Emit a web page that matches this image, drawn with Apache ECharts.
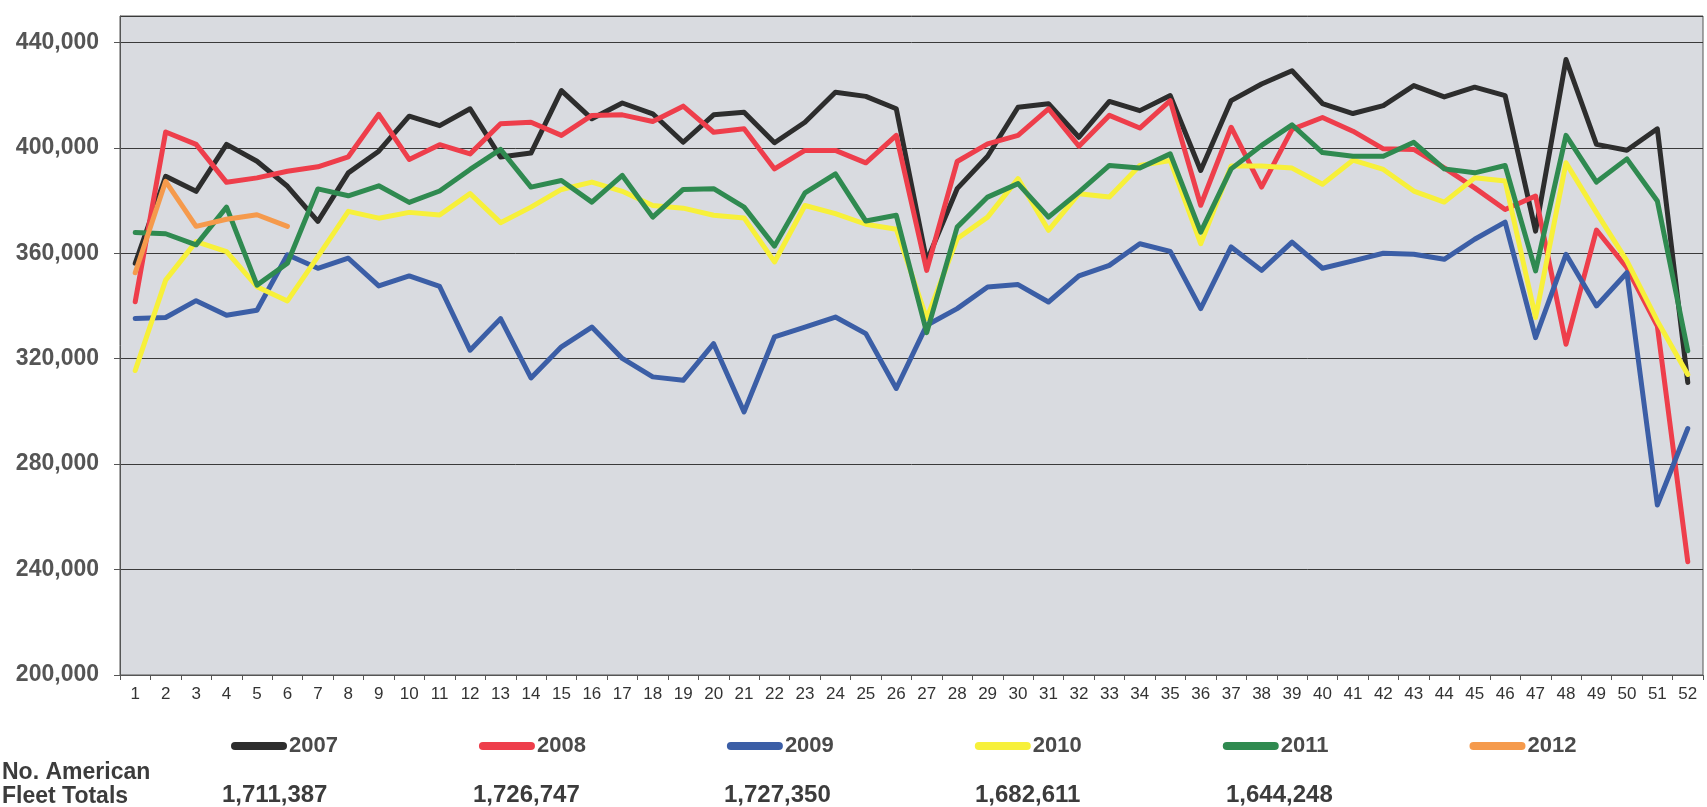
<!DOCTYPE html>
<html>
<head>
<meta charset="utf-8">
<title>No. American Fleet Totals</title>
<script src="https://cdn.jsdelivr.net/npm/echarts@6/dist/echarts.min.js"></script>
<style>
  html, body { margin: 0; padding: 0; background: #fff; }
  #chart { width: 1707px; height: 807px; }
</style>
</head>
<body>
<div id="chart"></div>
<script>
// weeks 1..52
const weeks = []
for (let i = 1; i <= 52; i++) weeks.push(String(i))

const years = ['2007', '2008', '2009', '2010', '2011', '2012']
const lineColors = ['#2d2d2d', '#ee3e4b', '#3b5ea6', '#f7f03a', '#2f8a50', '#f59a4c']

const y2007 = [356200, 389200, 383500, 401300, 394900, 385400, 372100, 390500, 398700, 412000,
  408400, 414800, 396500, 398000, 421700, 411000, 417000, 412900, 402100, 412500,
  413500, 401900, 409700, 421100, 419500, 414800, 357000, 384500, 396800, 415400,
  416700, 404000, 417600, 414100, 419800, 391400, 417900, 424200, 429200, 416800,
  413000, 416000, 423600, 419300, 423000, 419800, 368400, 433500, 401300, 399100,
  407200, 311000]
const y2008 = [341600, 406000, 401300, 386900, 388600, 391100, 392800, 396600, 412700, 395600,
  401200, 397700, 409100, 409700, 404700, 412300, 412500, 410000, 415800, 405900,
  407200, 392000, 399000, 399000, 394300, 404700, 353500, 394800, 401500, 404700,
  414800, 400600, 412300, 407500, 417900, 378200, 407800, 385100, 407000, 411500,
  406300, 399600, 399400, 392400, 384800, 376600, 381700, 325500, 368800, 354500,
  332400, 243000]
const y2009 = [335200, 335600, 342000, 336500, 338400, 359400, 354300, 358100, 347600, 351400,
  347400, 323200, 335200, 312700, 324500, 332000, 320100, 313100, 311800, 325700,
  299800, 328300, 332000, 335800, 329500, 308700, 332700, 339000, 347200, 348100,
  341500, 351400, 355400, 363600, 360700, 339000, 362400, 353500, 364200, 354300,
  357100, 360000, 359600, 357700, 365300, 371800, 328000, 359600, 340000, 352600,
  264500, 293500]
const y2010 = [315500, 349800, 364400, 360600, 347300, 341900, 358700, 375900, 373300, 375500,
  374500, 382600, 371600, 377500, 384200, 387000, 383500, 378100, 377100, 374400,
  373400, 356700, 378100, 375000, 371000, 369100, 335200, 365500, 373700, 388300,
  368700, 382600, 381300, 393300, 395200, 363600, 393100, 393100, 392300, 386200,
  395300, 391800, 383600, 379400, 388600, 387400, 335600, 394300, 375400, 357100,
  334300, 314000]
const y2011 = [367900, 367400, 363200, 377500, 347900, 356200, 384400, 381800, 385600, 379300,
  383600, 391800, 399400, 385100, 387600, 379400, 389500, 373700, 384200, 384500,
  377500, 362700, 382900, 390100, 372200, 374400, 329900, 369900, 381300, 386400,
  373700, 383200, 393300, 392300, 397700, 368000, 392000, 400900, 408700, 398200,
  396800, 396800, 402100, 392000, 390500, 393300, 353300, 404700, 387000, 395800,
  379800, 323000]
const y2012 = [352600, 387300, 370200, 372900, 374600, 370200]

const fleetTotals = ['1,711,387', '1,726,747', '1,727,350', '1,682,611', '1,644,248']

const yearData = [y2007, y2008, y2009, y2010, y2011, y2012]

function fmt(v) {
  return String(v).replace(/\B(?=(\d{3})+(?!\d))/g, ',')
}

const font = '"Liberation Sans", Arial, sans-serif'

let seriesList = years.map((yr, i) => ({
  name: yr,
  type: 'line',
  data: yearData[i],
  showSymbol: false,
  symbol: 'none',
  lineStyle: { width: 5, color: lineColors[i], cap: 'round', join: 'round' },
  itemStyle: { color: lineColors[i] },
  emphasis: { disabled: true },
}))

// totals under the legend, one per year that has a full set of weeks
let totalTexts = fleetTotals.map((t, i) => ({
  type: 'text',
  left: 222 + i * 251,
  top: 783,
  style: { text: t, fill: '#3c3c3c', font: 'bold 24px ' + font },
}))

const option = {
  animation: false,
  backgroundColor: '#ffffff',
  color: lineColors,
  grid: {
    left: 120,
    right: 4,
    top: 16,
    bottom: 132,
    show: true,
    backgroundColor: '#d9dbe0',
    borderColor: '#555',
    borderWidth: 1,
    containLabel: false,
    outerBoundsMode: 'none',
  },
  legend: {
    left: 226,
    top: 730,
    itemWidth: 56,
    itemHeight: 8,
    itemGap: 141,
    icon: 'path://M4,0 L52,0 A4,4 0 0 1 52,8 L4,8 A4,4 0 0 1 4,0 Z',
    textStyle: { fontFamily: font, fontWeight: 'bold', fontSize: 22, color: '#4a4a4a', padding: [0, 0, 0, -3] },
    selectedMode: false,
    data: years,
  },
  xAxis: {
    type: 'category',
    data: weeks,
    boundaryGap: true,
    axisLine: { show: true, lineStyle: { color: '#555', width: 1 } },
    axisTick: { show: true, length: 5, alignWithLabel: false, lineStyle: { color: '#555' } },
    axisLabel: { interval: 0, margin: 11, fontFamily: font, fontSize: 17, color: '#333' },
    splitLine: { show: false },
  },
  yAxis: {
    type: 'value',
    min: 200000,
    max: 450000,
    interval: 40000,
    axisLine: { show: true, lineStyle: { color: '#555', width: 1 } },
    axisTick: { show: true, length: 6, lineStyle: { color: '#555' } },
    axisLabel: {
      margin: 21,
      showMaxLabel: false,
      fontFamily: font,
      fontWeight: 'bold',
      fontSize: 23,
      color: '#555',
      formatter: fmt,
    },
    splitLine: { show: true, lineStyle: { color: '#3a3a3a', width: 1 } },
  },
  graphic: [
    {
      type: 'text',
      left: 2,
      top: 761,
      style: { text: 'No. American', fill: '#3c3c3c', font: 'bold 23px ' + font },
    },
    {
      type: 'text',
      left: 2,
      top: 785,
      style: { text: 'Fleet Totals', fill: '#3c3c3c', font: 'bold 23px ' + font },
    },
    ...totalTexts,
  ],
  series: seriesList,
}

const chart = echarts.init(document.getElementById('chart'))
chart.setOption(option)
</script>
</body>
</html>
